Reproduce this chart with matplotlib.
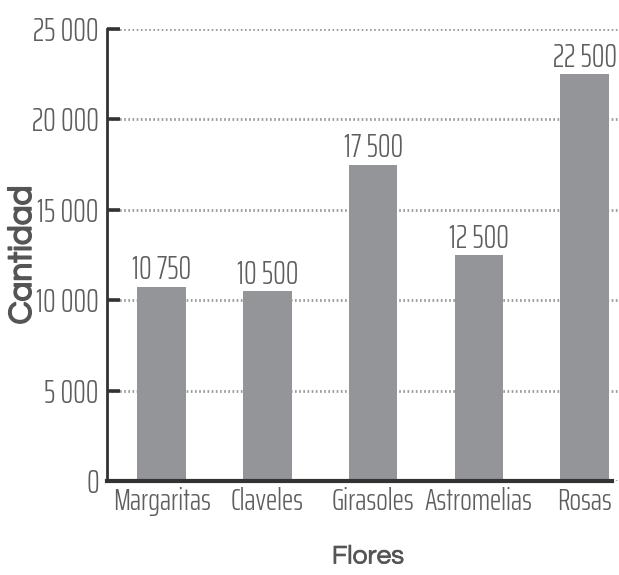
import matplotlib
matplotlib.use("Agg")
import matplotlib.pyplot as plt
import matplotlib.patheffects as pe

categories = ["Margaritas", "Claveles", "Girasoles", "Astromelias", "Rosas"]
values = [10750, 10500, 17500, 12500, 22500]
value_labels = ["10 750", "10 500", "17 500", "12 500", "22 500"]
yticks = [0, 5000, 10000, 15000, 20000, 25000]
ytick_labels = ["0", "5 000", "10 000", "15 000", "20 000", "25 000"]

cond = ["Saira ExtraCondensed", "DejaVu Sans"]
geo = ["Questrial", "DejaVu Sans"]
txt = "#5e5e5e"

fig = plt.figure(figsize=(6.19, 5.75), dpi=100)
ax = fig.add_axes([0.1729, 0.1635, 0.8271, 0.7861])

x = list(range(len(categories)))
ax.bar(x, values, width=0.459, color="#939598", zorder=2)
for xi, v, lab in zip(x, values, value_labels):
    ax.annotate(lab, (xi, v), xytext=(0, 1), textcoords="offset points",
                ha="center", va="bottom", fontsize=23, family=cond, weight=300, color=txt)

ax.set_xlim(-0.517, 4.326)
ax.set_ylim(0, 25000)
ax.set_yticks(yticks)
ax.set_yticklabels(ytick_labels, fontsize=23, family=cond, weight=300, color=txt)
ax.set_xticks(x)
ax.set_xticklabels(categories, fontsize=22, family=cond, weight=300, color=txt)
ax.tick_params(axis="y", direction="in", length=9, width=2.6, color="#333333", pad=6)
ax.tick_params(axis="x", length=0, pad=4)
ax.yaxis.grid(True, linestyle=(0, (0.6, 0.9)), color="#9a9a9a", linewidth=2.0, zorder=1)
ax.set_axisbelow(True)

for s in ["top", "right"]:
    ax.spines[s].set_visible(False)
ax.spines["left"].set_color("#333333")
ax.spines["left"].set_linewidth(2)
ax.spines["bottom"].set_color("#333333")
ax.spines["bottom"].set_linewidth(3)
ax.spines["bottom"].set_bounds(-0.517, 4.26)

fig.text(23 / 619, 1 - 255 / 575, "Cantidad", rotation=90, ha="center", va="center",
         fontsize=24, family=geo, color="#555555",
         path_effects=[pe.withStroke(linewidth=1.1, foreground="#555555")])
fig.text(368 / 619, 1 - 557 / 575, "Flores", ha="center", va="center",
         fontsize=19, family=geo, color="#555555",
         path_effects=[pe.withStroke(linewidth=0.5, foreground="#555555")])

fig.savefig("out.png", dpi=100)
